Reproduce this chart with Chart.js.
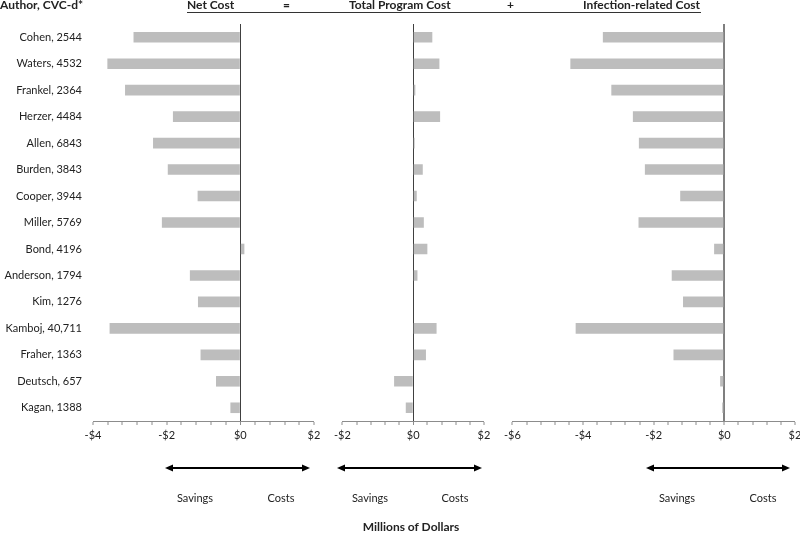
<!DOCTYPE html>
<html><head><meta charset="utf-8">
<script src="https://cdn.jsdelivr.net/npm/chart.js@4"></script>
<style>
html,body{margin:0;padding:0;background:#fff;overflow:hidden;width:800px;height:536px;}
body{position:relative;font-family:Lato,'Open Sans',sans-serif;color:#222;}
canvas{position:absolute;top:0;}
.t{position:absolute;white-space:nowrap;line-height:14px;}
.b{font-weight:bold;font-size:12px;}
.c{transform:translate(-50%,-50%);font-size:11px;}
svg{position:absolute;left:0;top:0;}
</style></head><body>
<canvas id="p1" width="330" height="450" style="left:0px"></canvas>
<canvas id="p2" width="170" height="450" style="left:330px"></canvas>
<canvas id="p3" width="310" height="450" style="left:500px"></canvas>

<div class="t b" style="left:0;top:-2px">Author, CVC-d*</div>
<div class="t b" style="left:187px;top:-2px">Net Cost</div>
<div class="t b" style="left:283px;top:-2px">=</div>
<div class="t b" style="left:349px;top:-2px">Total Program Cost</div>
<div class="t b" style="left:507px;top:-2px">+</div>
<div class="t b" style="left:583px;top:-2px">Infection-related Cost</div>
<div style="position:absolute;left:187px;top:12px;width:514px;height:1px;background:#333"></div>

<svg width="800" height="536">
  <g stroke="#000" stroke-width="2" fill="#000">
    <line x1="171" y1="468" x2="304" y2="468"/>
    <polygon points="165,468 173,464.5 173,471.5" stroke-width="0"/>
    <polygon points="310,468 302,464.5 302,471.5" stroke-width="0"/>
    <line x1="343" y1="468" x2="476" y2="468"/>
    <polygon points="337,468 345,464.5 345,471.5" stroke-width="0"/>
    <polygon points="482,468 474,464.5 474,471.5" stroke-width="0"/>
    <line x1="652" y1="468" x2="784" y2="468"/>
    <polygon points="646,468 654,464.5 654,471.5" stroke-width="0"/>
    <polygon points="790,468 782,464.5 782,471.5" stroke-width="0"/>
  </g>
</svg>

<div class="t c" style="left:195px;top:498px">Savings</div>
<div class="t c" style="left:281px;top:498px">Costs</div>
<div class="t c" style="left:370px;top:498px">Savings</div>
<div class="t c" style="left:455px;top:498px">Costs</div>
<div class="t c" style="left:677px;top:498px">Savings</div>
<div class="t c" style="left:763px;top:498px">Costs</div>
<div class="t c b" style="left:411px;top:527px;font-size:12px">Millions of Dollars</div>

<script>
const authors = ['Cohen, 2544', 'Waters, 4532', 'Frankel, 2364', 'Herzer, 4484', 'Allen, 6843',
  'Burden, 3843', 'Cooper, 3944', 'Miller, 5769', 'Bond, 4196', 'Anderson, 1794',
  'Kim, 1276', 'Kamboj, 40,711', 'Fraher, 1363', 'Deutsch, 657', 'Kagan, 1388'];
const netCost = [-2.90, -3.61, -3.13, -1.83, -2.37, -1.97, -1.16, -2.13, 0.11, -1.37, -1.15, -3.55, -1.08, -0.66, -0.27];
const programCost = [0.54, 0.74, 0.06, 0.76, 0.04, 0.27, 0.10, 0.30, 0.40, 0.12, 0.00, 0.66, 0.36, -0.54, -0.21];
const infectionCost = [-3.44, -4.36, -3.20, -2.59, -2.42, -2.25, -1.25, -2.43, -0.29, -1.49, -1.17, -4.21, -1.44, -0.12, -0.06];
const netTicks = [-4, -2, 0, 2];
const programTicks = [-2, 0, 2];
const infectionTicks = [-6, -4, -2, 0, 2];
const minorStep = 0.4;

const FONT = 'Lato, "Open Sans", sans-serif';

function fmt(v) {
  const r = Math.round(v);
  return (r < 0 ? '-' : '') + '$' + Math.abs(r);
}

function makeChart(id, values, tickLabels, cfg) {
  const isLabel = v => tickLabels.some(t => Math.abs(t - v) < 1e-6);
  const isZero = c => c.tick && Math.abs(c.tick.value) < 1e-9;
  new Chart(document.getElementById(id), {
    type: 'bar',
    data: {
      labels: authors,
      datasets: [{
        data: values,
        backgroundColor: '#bdbdbd',
        borderWidth: 0,
        barPercentage: 0.4,
        categoryPercentage: 1
      }]
    },
    options: {
      indexAxis: 'y',
      responsive: false,
      animation: false,
      events: [],
      layout: { padding: { top: 24, right: cfg.padR, left: cfg.padL, bottom: 0 } },
      plugins: { legend: { display: false }, tooltip: { enabled: false } },
      scales: {
        x: {
          min: tickLabels[0],
          max: tickLabels[tickLabels.length - 1],
          afterFit: s => { s.height = 29; },
          ticks: {
            stepSize: minorStep,
            autoSkip: false,
            maxRotation: 0,
            padding: 4,
            color: '#222',
            font: { family: FONT, size: 11 },
            callback: v => isLabel(v) ? fmt(v) : ''
          },
          grid: {
            drawOnChartArea: true,
            color: c => isZero(c) ? cfg.zeroColor : 'rgba(0,0,0,0)',
            lineWidth: c => isZero(c) ? cfg.zeroWidth : 0,
            tickColor: '#8c8c8c',
            tickWidth: 1,
            tickLength: 4
          },
          border: { display: true, color: '#8c8c8c', width: 1 }
        },
        y: cfg.showY ? {
          display: true,
          afterFit: s => { s.width = 93; },
          grid: { display: false, drawTicks: false },
          border: { display: false },
          ticks: { padding: 11, color: '#222', font: { family: FONT, size: 11 } }
        } : { display: false }
      }
    }
  });
}

makeChart('p1', netCost, netTicks, { padL: 0, padR: 16, showY: true, zeroColor: '#404040', zeroWidth: 1 });
makeChart('p2', programCost, programTicks, { padL: 12, padR: 16, showY: false, zeroColor: '#404040', zeroWidth: 1 });
makeChart('p3', infectionCost, infectionTicks, { padL: 12, padR: 15, showY: false, zeroColor: '#7f7f7f', zeroWidth: 2 });
</script>
</body></html>
